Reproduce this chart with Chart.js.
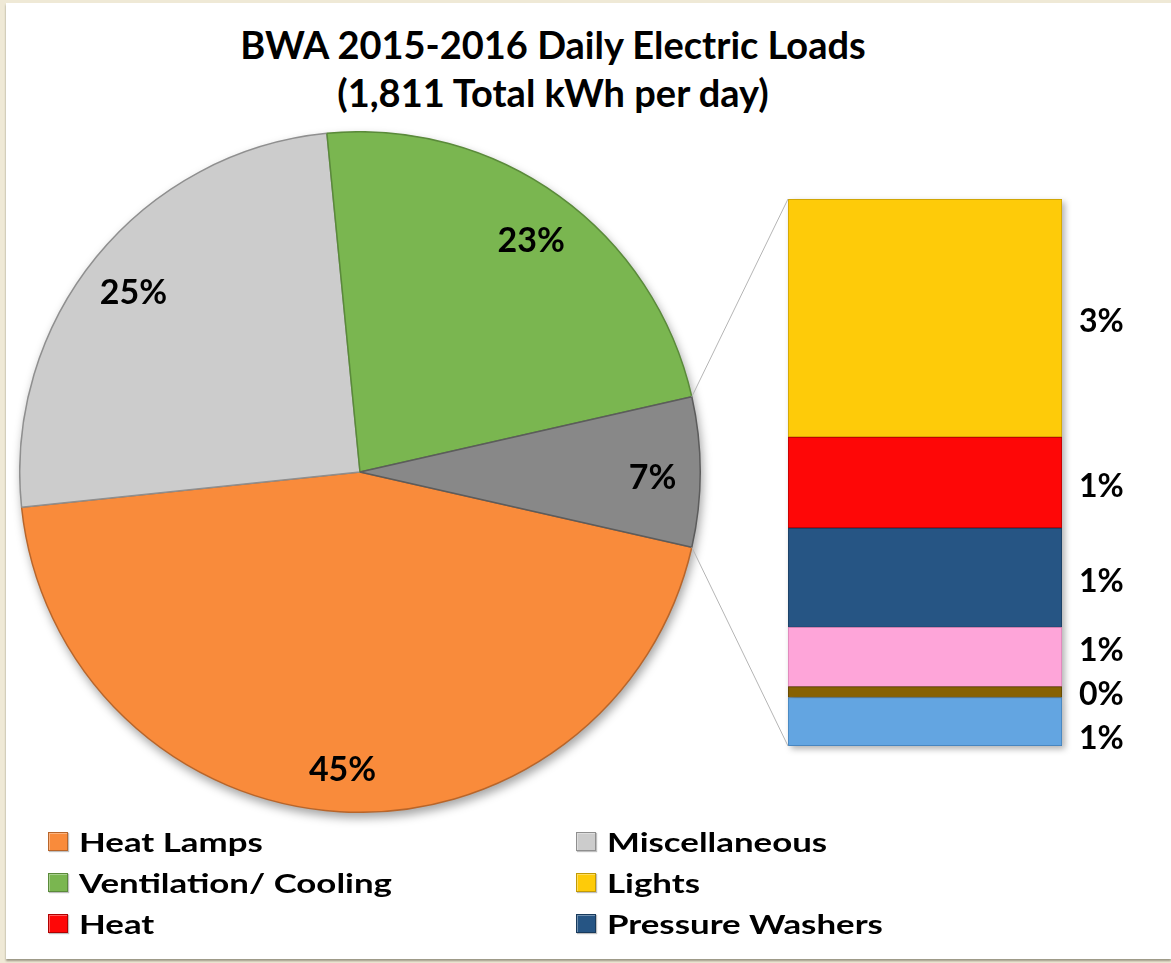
<!DOCTYPE html>
<html>
<head>
<meta charset="utf-8">
<title>BWA 2015-2016 Daily Electric Loads</title>
<script src="https://cdn.jsdelivr.net/npm/chart.js@4.4.0/dist/chart.umd.min.js"></script>
<style>
  body { margin: 0; background: #efe9d6; }
  #frame { position: relative; width: 1171px; height: 963px; overflow: hidden; background: #efe9d6; }
  #panel { position: absolute; left: 6px; top: 3px; width: 1165px; height: 956px; background: #fff; box-shadow: 0 2px 2px #9a9583; }
  #title { position: absolute; left: 0; top: 20px; width: 1106px; text-align: center;
           font: bold 38px Lato, sans-serif; line-height: 48px; color: #000; }
  #pieChart { position: absolute; left: 19px; top: 131px; filter: drop-shadow(2px 5px 5px rgba(0,0,0,0.35)); }
  #barChart { position: absolute; left: 788px; top: 199px; filter: drop-shadow(3px 3px 3px rgba(0,0,0,0.3)); }
  #overlay { position: absolute; left: 0; top: 0; pointer-events: none; }
  #legend { position: absolute; left: 48px; top: 821px; width: 1000px;
            display: grid; grid-template-columns: 528px 400px; grid-auto-rows: 41px; }
  .item { display: flex; align-items: center; font: bold 27px Lato, sans-serif; color: #000; white-space: nowrap; }
  .box { width: 20px; height: 19px; margin-right: 11px; box-sizing: border-box; border: 1px solid; flex: none;
         box-shadow: inset 1px 1px 0 rgba(255,255,255,0.35), 1px 1px 1px rgba(0,0,0,0.25); }
  .txt { display: inline-block; transform: scaleX(1.29); transform-origin: left center; }
</style>
</head>
<body>
<div id="frame">
  <div id="panel"></div>
  <div id="title">BWA 2015-2016 Daily Electric Loads<br>(1,811 Total kWh per day)</div>
  <canvas id="pieChart" width="682" height="682"></canvas>
  <canvas id="barChart" width="274" height="547"></canvas>
  <canvas id="overlay" width="1171" height="963"></canvas>
  <div id="legend"></div>
</div>
<script>
// pie slices (percent of daily kWh)
const pieNames = ["Heat Lamps", "Miscellaneous", "Ventilation/ Cooling"];
const pieValues = [44.8, 25.1, 23.0];
const pieColors = ["#f98b3b", "#cccccc", "#7ab650"];
const pieBorders = ["#b8652a", "#8f8f8f", "#5a8a3a"];

// split-out bar (the "other" slice)
const barNames = ["Lights", "Heat", "Pressure Washers", "Other 1", "Other 2", "Other 3"];
const barValues = [3.09, 1.18, 1.29, 0.77, 0.14, 0.63];
const barColors = ["#fecb09", "#fe0707", "#265584", "#fea5d9", "#876102", "#63a5e1"];
const barBorders = ["#c29a05", "#b00000", "#183a5c", "#d17fb0", "#5a4000", "#3f7db5"];

const otherColor = "#888888";
const otherBorder = "#5c5c5c";

const legendNames = ["Heat Lamps", "Miscellaneous", "Ventilation/ Cooling", "Lights", "Heat", "Pressure Washers"];

const otherTotal = barValues.reduce((a, b) => a + b, 0);
const grandTotal = pieValues.reduce((a, b) => a + b, 0) + otherTotal;

// pie chart, "other" slice centred on 3 o'clock
const pieChart = new Chart(document.getElementById("pieChart"), {
  type: "pie",
  data: {
    labels: [...pieNames, "Other"],
    datasets: [{
      data: [...pieValues, otherTotal],
      backgroundColor: [...pieColors, otherColor],
      borderColor: [...pieBorders, otherBorder],
      borderWidth: 1.5,
      hoverOffset: 0
    }]
  },
  options: {
    responsive: false,
    animation: false,
    rotation: 90 + (otherTotal / grandTotal) * 180,
    layout: { padding: 0 },
    plugins: { legend: { display: false }, tooltip: { enabled: false } }
  }
});

// stacked bar, first item on top
const barDatasets = barNames.map((name, i) => ({
  label: name,
  data: [barValues[i]],
  backgroundColor: barColors[i],
  borderColor: barBorders[i],
  borderWidth: 1,
  borderSkipped: false,
  barPercentage: 1,
  categoryPercentage: 1
})).reverse();

const barChart = new Chart(document.getElementById("barChart"), {
  type: "bar",
  data: { labels: [""], datasets: barDatasets },
  options: {
    responsive: false,
    animation: false,
    layout: { padding: 0 },
    plugins: { legend: { display: false }, tooltip: { enabled: false } },
    scales: {
      x: { display: false, stacked: true },
      y: { display: false, stacked: true, min: 0, max: otherTotal }
    }
  }
});

function pct(v) {
  return Math.round(v / grandTotal * 100) + "%";
}

// spread labels that would overlap: groups are centred on their wanted spots
function spread(wanted, gap) {
  const groups = [];
  wanted.forEach(y => {
    groups.push({ sum: y, n: 1, top: y });
    while (groups.length > 1) {
      const b = groups[groups.length - 1], a = groups[groups.length - 2];
      if (a.top + a.n * gap <= b.top) break;
      a.sum += b.sum; a.n += b.n;
      a.top = a.sum / a.n - (a.n - 1) * gap / 2;
      groups.pop();
    }
  });
  const out = [];
  groups.forEach(g => { for (let k = 0; k < g.n; k++) out.push(g.top + k * gap); });
  return out;
}

// connector lines + data labels
function drawOverlay() {
  const ctx = document.getElementById("overlay").getContext("2d");
  const pc = pieChart.canvas, bc = barChart.canvas;
  const arcs = pieChart.getDatasetMeta(0).data;
  const other = arcs[arcs.length - 1];
  const cx = pc.offsetLeft + other.x, cy = pc.offsetTop + other.y;
  const r = other.outerRadius;
  const area = barChart.chartArea;

  ctx.strokeStyle = "#b5b5b5";
  ctx.lineWidth = 1;
  ctx.beginPath();
  ctx.moveTo(cx + r * Math.cos(other.startAngle), cy + r * Math.sin(other.startAngle));
  ctx.lineTo(bc.offsetLeft + area.left, bc.offsetTop + area.top);
  ctx.moveTo(cx + r * Math.cos(other.endAngle), cy + r * Math.sin(other.endAngle));
  ctx.lineTo(bc.offsetLeft + area.left, bc.offsetTop + area.bottom);
  ctx.stroke();

  ctx.fillStyle = "#000";
  ctx.font = "bold 34px Lato, sans-serif";
  ctx.textAlign = "center";
  ctx.textBaseline = "middle";
  const values = [...pieValues, otherTotal];
  arcs.forEach((arc, i) => {
    const mid = (arc.startAngle + arc.endAngle) / 2;
    const d = arc.outerRadius * 0.86;
    ctx.fillText(pct(values[i]), cx + d * Math.cos(mid), cy + d * Math.sin(mid) + 6);
  });

  // bar labels beside each segment
  ctx.font = "bold 32px Lato, sans-serif";
  ctx.textAlign = "left";
  const wanted = barNames.map((name, i) => {
    const bar = barChart.getDatasetMeta(barDatasets.length - 1 - i).data[0];
    return bc.offsetTop + (bar.y + bar.base) / 2 + 4;
  });
  const ys = spread(wanted, 44);
  barValues.forEach((v, i) => {
    ctx.fillText(pct(v), bc.offsetLeft + area.right + 17, ys[i]);
  });
}
drawOverlay();

// legend
const legend = document.getElementById("legend");
legendNames.forEach(name => {
  let color, border;
  const pi = pieNames.indexOf(name);
  if (pi >= 0) { color = pieColors[pi]; border = pieBorders[pi]; }
  else { const bi = barNames.indexOf(name); color = barColors[bi]; border = barBorders[bi]; }
  const item = document.createElement("div");
  item.className = "item";
  item.innerHTML = `<span class="box" style="background:${color};border-color:${border}"></span><span class="txt">${name}</span>`;
  legend.appendChild(item);
});
</script>
</body>
</html>
